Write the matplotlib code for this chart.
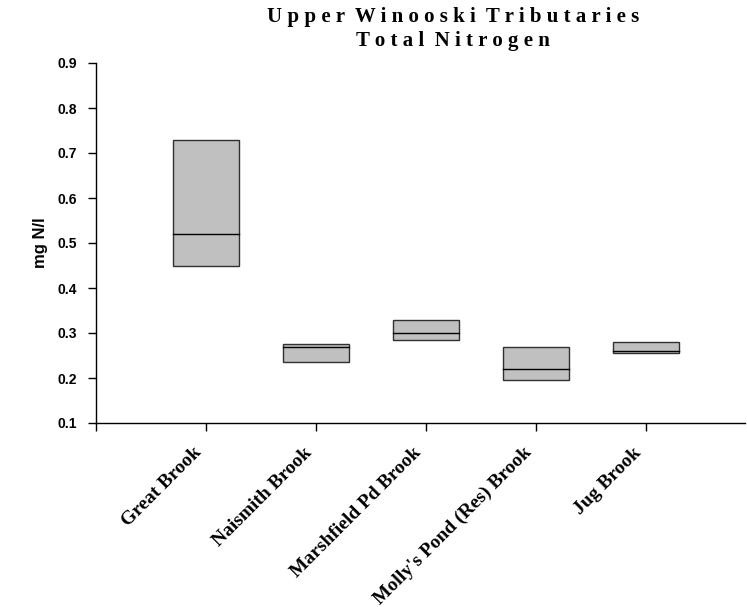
import matplotlib
matplotlib.use("Agg")
import matplotlib.pyplot as plt
import matplotlib.transforms as mtransforms

# -----------------------------------
# DATA
# -----------------------------------

sites = [
    "Great Brook",
    "Naismith Brook",
    "Marshfield Pd Brook",
    "Molly's Pond (Res) Brook",
    "Jug Brook",
]

box_low = [0.45, 0.235, 0.285, 0.195, 0.255]
box_mid = [0.52, 0.27, 0.30, 0.22, 0.26]
box_high = [0.73, 0.275, 0.33, 0.27, 0.28]

y_ticks = [0.1, 0.2, 0.3, 0.4, 0.5, 0.6, 0.7, 0.8, 0.9]

# -----------------------------------
# FIGURE
# -----------------------------------

fig = plt.figure(figsize=(7.47, 6.07), dpi=100)

ax = fig.add_axes([96 / 747, (607 - 423) / 607, (745 - 96) / 747, 360 / 607])

positions = list(range(1, len(sites) + 1))

for x, lo, mid, hi in zip(positions, box_low, box_mid, box_high):
    ax.bar(
        x,
        hi - lo,
        bottom=lo,
        width=0.6,
        color="#c0c0c0",
        edgecolor="#303030",
        linewidth=1.0,
    )
    ax.plot([x - 0.3, x + 0.3], [mid, mid], color="black", linewidth=1.0)

ax.set_xlim(0, 5.9)
ax.set_ylim(0.1, 0.9)

ax.set_yticks(y_ticks)
ax.set_yticklabels(
    [f"{t:.1f}" for t in y_ticks],
    fontsize=10,
    fontweight="bold",
    family="Liberation Sans",
)

ax.set_xticks(range(0, len(sites) + 1))
ax.set_xticklabels([])

# rotated category labels, shifted down-left like the original
offset = mtransforms.ScaledTranslation(-0.07, -0.27, fig.dpi_scale_trans)
label_trans = ax.get_xaxis_transform() + offset
for x, name in zip(positions, sites):
    ax.text(
        x,
        0,
        name,
        transform=label_trans,
        rotation=45,
        ha="right",
        va="center",
        rotation_mode="anchor",
        family="Liberation Serif",
        fontweight="bold",
        fontsize=14,
        clip_on=False,
    )

ax.tick_params(axis="both", direction="out", length=6, width=1.0, colors="black")
ax.tick_params(axis="y", pad=8)

ax.spines["top"].set_visible(False)
ax.spines["right"].set_visible(False)
ax.spines["left"].set_linewidth(1.0)
ax.spines["bottom"].set_linewidth(1.0)

fig.text(
    40 / 747,
    1 - 243 / 607,
    "mg N/l",
    rotation=90,
    ha="center",
    va="center",
    fontsize=12,
    fontweight="bold",
    family="Liberation Sans",
)


# letter spaced title like the original
def spaced(s):
    return "  ".join(" ".join(w) for w in s.split())


fig.text(
    453 / 747,
    1 - 17 / 607,
    spaced("Upper Winooski Tributaries"),
    ha="center",
    va="center",
    fontsize=15,
    fontweight="bold",
    family="Liberation Serif",
)
fig.text(
    453 / 747,
    1 - 41 / 607,
    spaced("Total Nitrogen"),
    ha="center",
    va="center",
    fontsize=15,
    fontweight="bold",
    family="Liberation Serif",
)

fig.savefig("out.png", dpi=100)
